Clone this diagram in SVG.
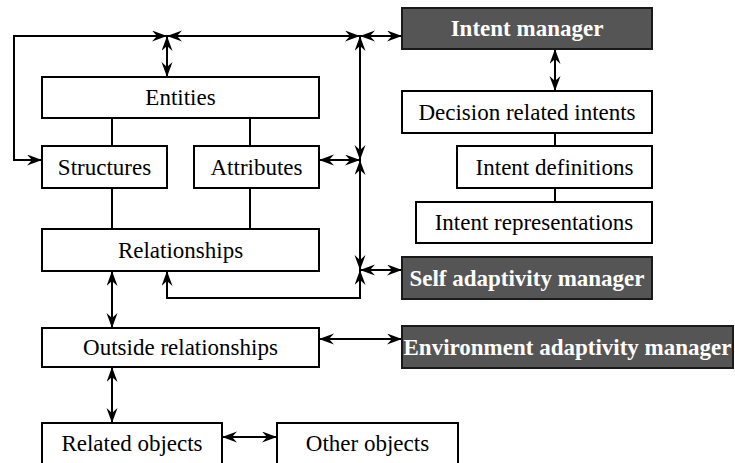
<svg xmlns="http://www.w3.org/2000/svg" width="735" height="463" viewBox="0 0 735 463">
  <style>
    .box { fill: #ffffff; stroke: #000000; stroke-width: 2; }
    .mgr { fill: #555555; stroke: #1a1a1a; stroke-width: 2; }
    .lbl { font-family: "Liberation Serif", "Times New Roman", serif; font-size: 23px; fill: #000000; text-anchor: middle; }
    .mlbl { font-family: "Liberation Serif", "Times New Roman", serif; font-size: 23px; font-weight: bold; fill: #ffffff; text-anchor: middle; }
    .wire { fill: none; stroke: #000000; stroke-width: 2; }
    .dbl { fill: none; stroke: #000000; stroke-width: 2; marker-start: url(#head); marker-end: url(#head); }
  </style>
  <defs>
    <marker id="head" markerUnits="userSpaceOnUse" markerWidth="17" markerHeight="12" refX="15" refY="5.5" orient="auto-start-reverse">
      <path d="M0,0 L15,5.5 L0,11 L5,5.5 z" fill="#000000"/>
    </marker>
  </defs>

  <rect width="735" height="463" fill="#ffffff"/>

  <!-- connectors -->
  <g id="connectors">
    <!-- plain links inside the structure blocks -->
    <line class="wire" x1="112" y1="118" x2="112" y2="146"/>
    <line class="wire" x1="250" y1="118" x2="250" y2="146"/>
    <line class="wire" x1="112" y1="188" x2="112" y2="229"/>
    <line class="wire" x1="250" y1="188" x2="250" y2="229"/>
    <line class="wire" x1="555" y1="133" x2="555" y2="146"/>
    <line class="wire" x1="555" y1="188" x2="555" y2="202"/>
    <line class="wire" x1="555" y1="36" x2="555" y2="49"/>

    <!-- bus on the top edge -->
    <path class="dbl" d="M42,160 L14,160 L14,36 L167,36"/>
    <line class="dbl" x1="167" y1="36" x2="360" y2="36"/>
    <line class="dbl" x1="167" y1="36" x2="167" y2="77"/>
    <line class="dbl" x1="360" y1="36" x2="402" y2="36"/>

    <!-- right-hand spine -->
    <line class="dbl" x1="360" y1="160" x2="360" y2="36"/>
    <line class="dbl" x1="319" y1="160" x2="360" y2="160"/>
    <line class="dbl" x1="360" y1="160" x2="360" y2="270"/>
    <line class="dbl" x1="360" y1="270" x2="402" y2="270"/>
    <path class="dbl" d="M167,271 L167,298 L360,298 L360,270"/>

    <!-- intent manager to decision intents -->
    <line class="dbl" x1="555" y1="49" x2="555" y2="91"/>

    <!-- lower chain -->
    <line class="dbl" x1="112" y1="271" x2="112" y2="328"/>
    <line class="dbl" x1="319" y1="339" x2="402" y2="339"/>
    <line class="dbl" x1="112" y1="367" x2="112" y2="423"/>
    <line class="dbl" x1="222" y1="437" x2="277" y2="437"/>
  </g>

  <g id="entities">
    <rect class="box" x="42" y="77" width="277" height="41"/>
    <text class="lbl" x="180.5" y="105">Entities</text>
  </g>
  <g id="structures">
    <rect class="box" x="42" y="146" width="125" height="42"/>
    <text class="lbl" x="104.5" y="175">Structures</text>
  </g>
  <g id="attributes">
    <rect class="box" x="194" y="146" width="125" height="42"/>
    <text class="lbl" x="256.5" y="175">Attributes</text>
  </g>
  <g id="relationships">
    <rect class="box" x="42" y="229" width="277" height="42"/>
    <text class="lbl" x="180.5" y="258">Relationships</text>
  </g>
  <g id="outside-relationships">
    <rect class="box" x="42" y="328" width="277" height="39"/>
    <text class="lbl" x="180.5" y="355">Outside relationships</text>
  </g>
  <g id="related-objects">
    <rect class="box" x="42" y="423" width="180" height="48"/>
    <text class="lbl" x="132" y="451">Related objects</text>
  </g>
  <g id="other-objects">
    <rect class="box" x="277" y="423" width="181" height="48"/>
    <text class="lbl" x="367.5" y="451">Other objects</text>
  </g>

  <g id="intent-manager">
    <rect class="mgr" x="402" y="8" width="250" height="41"/>
    <text class="mlbl" x="527" y="36">Intent manager</text>
  </g>
  <g id="decision-related-intents">
    <rect class="box" x="402" y="91" width="250" height="42"/>
    <text class="lbl" x="527" y="120">Decision related intents</text>
  </g>
  <g id="intent-definitions">
    <rect class="box" x="457" y="146" width="195" height="42"/>
    <text class="lbl" x="554.5" y="175">Intent definitions</text>
  </g>
  <g id="intent-representations">
    <rect class="box" x="416" y="202" width="236" height="41"/>
    <text class="lbl" x="534" y="230">Intent representations</text>
  </g>
  <g id="self-adaptivity-manager">
    <rect class="mgr" x="402" y="257" width="250" height="42"/>
    <text class="mlbl" x="527" y="286">Self adaptivity manager</text>
  </g>
  <g id="environment-adaptivity-manager">
    <rect class="mgr" x="402" y="326" width="331" height="42"/>
    <text class="mlbl" x="567.5" y="355">Environment adaptivity manager</text>
  </g>
</svg>
